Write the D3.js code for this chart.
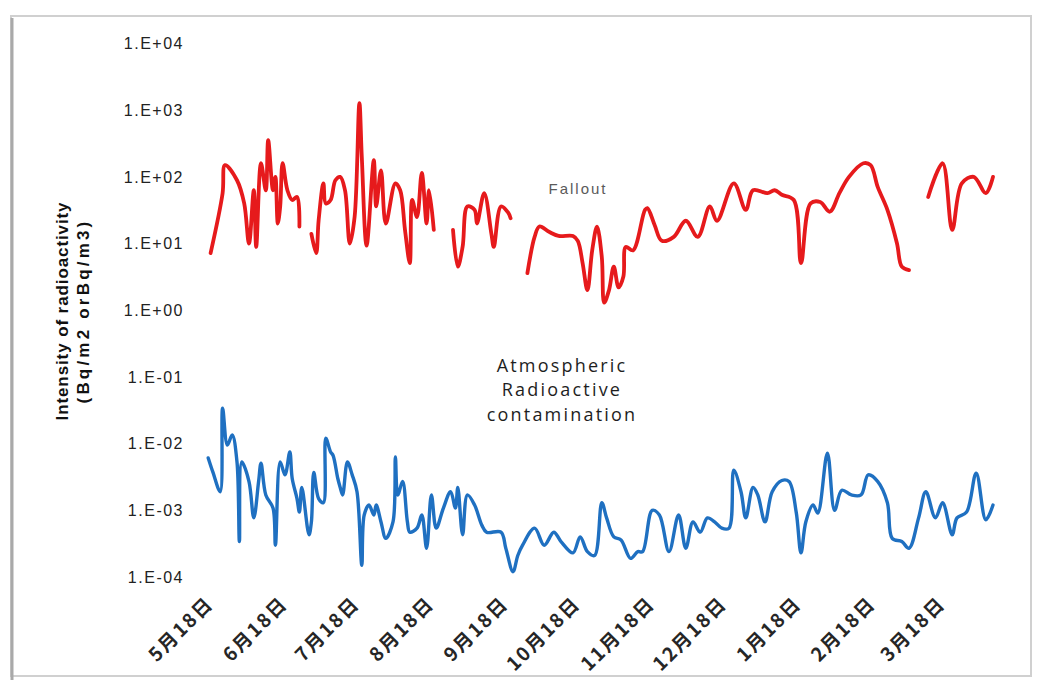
<!DOCTYPE html>
<html>
<head>
<meta charset="utf-8">
<script src="https://cdn.jsdelivr.net/npm/d3@7"></script>
<style>
  body { margin: 0; background: #fff; }
  svg { display: block; }
</style>
</head>
<body>
<svg id="drawing_region"></svg>
<script>
// ---- data ----
const redDates = [
  "2011-05-17","2011-05-22","2011-05-23","2011-05-28","2011-05-31","2011-06-02","2011-06-04","2011-06-05",
  "2011-06-07","2011-06-09","2011-06-10","2011-06-12","2011-06-13","2011-06-14","2011-06-15","2011-06-16",
  "2011-06-18","2011-06-20","2011-06-22","2011-06-23","2011-06-26",
  "2011-06-28","2011-06-30","2011-07-01","2011-07-03","2011-07-04","2011-07-06","2011-07-08","2011-07-10",
  "2011-07-12","2011-07-14","2011-07-16","2011-07-18","2011-07-19","2011-07-21","2011-07-24","2011-07-25",
  "2011-07-27","2011-07-29","2011-08-02","2011-08-04","2011-08-06","2011-08-08","2011-08-09","2011-08-11",
  "2011-08-13","2011-08-15","2011-08-16","2011-08-18","2011-08-22",
  "2011-08-26","2011-08-28","2011-08-30","2011-09-01","2011-09-04","2011-09-05","2011-09-08","2011-09-11",
  "2011-09-12","2011-09-15","2011-09-18","2011-09-19","2011-09-22",
  "2011-09-26","2011-09-29","2011-10-01","2011-10-05","2011-10-09","2011-10-15","2011-10-17","2011-10-19",
  "2011-10-21","2011-10-23","2011-10-25","2011-10-27","2011-10-28","2011-10-30","2011-11-01","2011-11-03",
  "2011-11-05","2011-11-06","2011-11-09","2011-11-14","2011-11-15","2011-11-18","2011-11-21","2011-11-26",
  "2011-12-01","2011-12-06","2011-12-11","2011-12-14","2011-12-21","2011-12-26","2011-12-29","2012-01-04",
  "2012-01-07","2012-01-10","2012-01-15","2012-01-18","2012-01-22","2012-01-26","2012-01-30","2012-02-03",
  "2012-02-07","2012-02-13","2012-02-16","2012-02-19","2012-02-23","2012-02-27","2012-02-29","2012-03-03",
  "2012-03-07",
  "2012-03-11","2012-03-17","2012-03-21","2012-03-25","2012-03-30","2012-04-04","2012-04-07"
];
const redValues = [
  7.2, 57, 150, 89, 40, 10, 63, 8.9,
  160, 63, 355, 63, 100, 20, 36, 160,
  63, 45, 50, 18, null,
  14, 7.2, 22, 80, 40, 45, 89, 100,
  63, 10, 25, 1280, 200, 9.3, 178, 36,
  125, 20, 80, 63, 16, 5.1, 45, 25,
  115, 20, 63, 16, null,
  16, 4.5, 8.9, 36, 32, 20, 57, 14,
  8.9, 36, 29, 24, null,
  3.6, 12.6, 18, 15, 13, 13, 11, 5.1,
  2.0, 7.9, 18, 6.3, 1.3, 2.0, 4.5, 2.2,
  3.2, 8.9, 7.9, 32, 34, 19, 11, 12.6,
  22, 12.6, 36, 22, 80, 32, 63, 57,
  63, 54, 45, 5.1, 40, 42, 30, 57,
  100, 160, 150, 70, 32, 10, 4.5, 4.0,
  null,
  50, 160, 16, 80, 100, 57, 100
];

const blueDates = [
  "2011-05-16","2011-05-18","2011-05-21","2011-05-22","2011-05-24","2011-05-26","2011-05-28","2011-05-29",
  "2011-05-30","2011-06-02","2011-06-04","2011-06-06","2011-06-07","2011-06-09","2011-06-12","2011-06-13",
  "2011-06-15","2011-06-17","2011-06-19","2011-06-20","2011-06-22","2011-06-23","2011-06-24","2011-06-27",
  "2011-06-28","2011-06-29","2011-07-01","2011-07-03","2011-07-04","2011-07-06","2011-07-07","2011-07-09",
  "2011-07-10","2011-07-11","2011-07-13","2011-07-15","2011-07-17","2011-07-19","2011-07-20","2011-07-22",
  "2011-07-24","2011-07-25","2011-07-27","2011-07-29","2011-08-01","2011-08-02","2011-08-03","2011-08-05",
  "2011-08-07","2011-08-08","2011-08-11","2011-08-13","2011-08-15","2011-08-17","2011-08-19","2011-08-22",
  "2011-08-25","2011-08-27","2011-08-28","2011-08-30","2011-09-01","2011-09-04","2011-09-07","2011-09-09",
  "2011-09-15","2011-09-17","2011-09-20","2011-09-22","2011-09-24","2011-09-29","2011-10-03","2011-10-07",
  "2011-10-10","2011-10-15","2011-10-18","2011-10-21","2011-10-24","2011-10-27","2011-10-29","2011-11-01",
  "2011-11-04","2011-11-08","2011-11-11","2011-11-13","2011-11-17","2011-11-20","2011-11-24","2011-11-28",
  "2011-12-01","2011-12-04","2011-12-07","2011-12-10","2011-12-13","2011-12-16","2011-12-19","2011-12-21",
  "2011-12-24","2011-12-26","2011-12-29","2011-12-31","2012-01-03","2012-01-06","2012-01-10","2012-01-13",
  "2012-01-16","2012-01-18","2012-01-20","2012-01-23","2012-01-25","2012-01-29","2012-02-01","2012-02-04",
  "2012-02-08","2012-02-12","2012-02-15","2012-02-19","2012-02-23","2012-02-25","2012-02-29","2012-03-03",
  "2012-03-07","2012-03-10","2012-03-14","2012-03-17","2012-03-21","2012-03-23","2012-03-27","2012-03-31",
  "2012-04-04","2012-04-07"
];
const blueValues = [
  0.0061, 0.0037, 0.0019, 0.034, 0.0095, 0.0135, 0.0053, 0.00034,
  0.0053, 0.0027, 0.00077, 0.0027, 0.0051, 0.0017, 0.00108, 0.0003,
  0.0053, 0.0034, 0.0075, 0.003, 0.0015, 0.00094, 0.0022, 0.00043,
  0.00067, 0.0037, 0.0015, 0.0013, 0.0121, 0.0075, 0.0067, 0.003,
  0.0022, 0.0017, 0.0053, 0.0034, 0.0019, 0.00015, 0.00085, 0.0012,
  0.00085, 0.0012, 0.00067, 0.00038, 0.00067, 0.0063, 0.0017, 0.0027,
  0.00067, 0.00047, 0.00054, 0.00085, 0.00027, 0.0017, 0.00054, 0.00108,
  0.0019, 0.00108, 0.0022, 0.00043, 0.0017, 0.0012, 0.0006, 0.00047,
  0.00047, 0.00027, 0.00012, 0.00021, 0.0003, 0.00054, 0.0003, 0.00047,
  0.00034, 0.00023, 0.0004, 0.00024, 0.00021, 0.0013, 0.00077, 0.0004,
  0.00036, 0.00019, 0.00024, 0.00024, 0.001, 0.00085, 0.00024, 0.00085,
  0.00027, 0.00067, 0.00047, 0.00077, 0.00067, 0.00054, 0.00054, 0.004,
  0.0019, 0.00077, 0.0022, 0.0017, 0.00067, 0.0019, 0.0028, 0.0027,
  0.00094, 0.00023, 0.00067, 0.0012, 0.00091, 0.0072, 0.001, 0.002,
  0.0017, 0.0017, 0.0034, 0.0027, 0.0013, 0.00038, 0.00034, 0.00027,
  0.00077, 0.0019, 0.00077, 0.0013, 0.00043, 0.00077, 0.00094, 0.0036,
  0.00072, 0.0012
];

const yTickValues = [1e4, 1e3, 1e2, 1e1, 1e0, 1e-1, 1e-2, 1e-3, 1e-4];
const yTickLabels = ["1.E+04","1.E+03","1.E+02","1.E+01","1.E+00","1.E-01","1.E-02","1.E-03","1.E-04"];

const xTickDates = ["2011-05-18","2011-06-18","2011-07-18","2011-08-18","2011-09-18","2011-10-18",
                    "2011-11-18","2011-12-18","2012-01-18","2012-02-18","2012-03-18"];
const xTickLabels = ["5月18日","6月18日","7月18日","8月18日","9月18日","10月18日",
                     "11月18日","12月18日","1月18日","2月18日","3月18日"];

const xDomain = ["2011-05-16", "2012-04-12"];
const yDomain = [1e-4, 1e4];

// ---- drawing ----
const parse = d3.timeParse("%Y-%m-%d");
const W = 1038, H = 680;

const svg = d3.select("#drawing_region")
    .attr("width", W)
    .attr("height", H);

// scanned frame
svg.append("rect")
    .attr("x", 11).attr("y", 16)
    .attr("width", 1020).attr("height", 660)
    .attr("fill", "none")
    .attr("stroke", "#d0d0d0")
    .attr("stroke-width", 2);
svg.append("line")
    .attr("x1", 12).attr("x2", 12)
    .attr("y1", 18).attr("y2", H)
    .attr("stroke", "#a9a9a9")
    .attr("stroke-width", 3);

const xscale = d3.scaleTime()
    .domain(xDomain.map(parse))
    .range([208.2, 1005]);

const yscale = d3.scaleLog()
    .domain(yDomain)
    .range([577, 43.5]);

// y axis
const yaxis = d3.axisLeft(yscale)
    .tickValues(yTickValues)
    .tickFormat((d, i) => yTickLabels[i])
    .tickSize(0)
    .tickPadding(6);

const yaxis_group = svg.append("g")
    .attr("transform", "translate(190,0)")
    .call(yaxis);
yaxis_group.select(".domain").remove();
yaxis_group.selectAll("text")
    .attr("font-family", "Liberation Sans, Arial, sans-serif")
    .attr("font-size", 16)
    .attr("letter-spacing", 1.5)
    .attr("fill", "#222");

// x axis
const xaxis = d3.axisBottom(xscale)
    .tickValues(xTickDates.map(parse))
    .tickFormat((d, i) => xTickLabels[i])
    .tickSize(0);

const xaxis_group = svg.append("g")
    .attr("transform", "translate(0,605)")
    .call(xaxis);
xaxis_group.select(".domain").remove();
xaxis_group.selectAll("text")
    .attr("x", 0)
    .attr("y", 0)
    .attr("dy", null)
    .attr("transform", "translate(1,0) rotate(-45)")
    .attr("text-anchor", "end")
    .attr("font-family", "Noto Sans CJK JP, sans-serif")
    .attr("font-weight", "bold")
    .attr("font-size", 19)
    .attr("letter-spacing", 2)
    .attr("fill", "#262626");

// y axis title
const ytitle = svg.append("g")
    .attr("transform", "translate(68,311) rotate(-90)")
    .attr("text-anchor", "middle")
    .attr("font-family", "Liberation Sans, Arial, sans-serif")
    .attr("font-weight", "bold")
    .attr("font-size", 17)
    .attr("fill", "#111");
ytitle.append("text").attr("x", 0).attr("y", 0)
    .attr("letter-spacing", 0.9)
    .text("Intensity of radioactivity");
ytitle.append("text").attr("x", 0).attr("y", 21)
    .attr("letter-spacing", 3.2)
    .text("(Bq/m2 orBq/m3)");

// series
const series = [
  { dates: redDates, values: redValues, color: "#e61a1c", width: 3.8 },
  { dates: blueDates, values: blueValues, color: "#1f70c1", width: 3.4 }
];

const line = d3.line()
    .defined(d => d.v != null)
    .x(d => xscale(d.date))
    .y(d => yscale(d.v))
    .curve(d3.curveCatmullRom.alpha(0.5));

series.forEach(s => {
  const pts = s.dates.map((d, i) => ({ date: parse(d), v: s.values[i] }));
  svg.append("path")
      .attr("d", line(pts))
      .attr("fill", "none")
      .attr("stroke", s.color)
      .attr("stroke-width", s.width)
      .attr("stroke-linejoin", "round")
      .attr("stroke-linecap", "round");
});

// annotations
svg.append("text")
    .attr("x", 578).attr("y", 194)
    .attr("text-anchor", "middle")
    .attr("font-family", "Liberation Sans, Arial, sans-serif")
    .attr("font-size", 15)
    .attr("letter-spacing", 2)
    .attr("fill", "#5a5a5a")
    .text("Fallout");

const atmo = svg.append("text")
    .attr("text-anchor", "middle")
    .attr("font-family", "Open Sans, sans-serif")
    .attr("font-size", 18)
    .attr("letter-spacing", 2.2)
    .attr("fill", "#1e1e1e");
[["Atmospheric", 372], ["Radioactive", 396], ["contamination", 421]].forEach(([t, yy]) => {
  atmo.append("tspan").attr("x", 562).attr("y", yy).text(t);
});
</script>
</body>
</html>
